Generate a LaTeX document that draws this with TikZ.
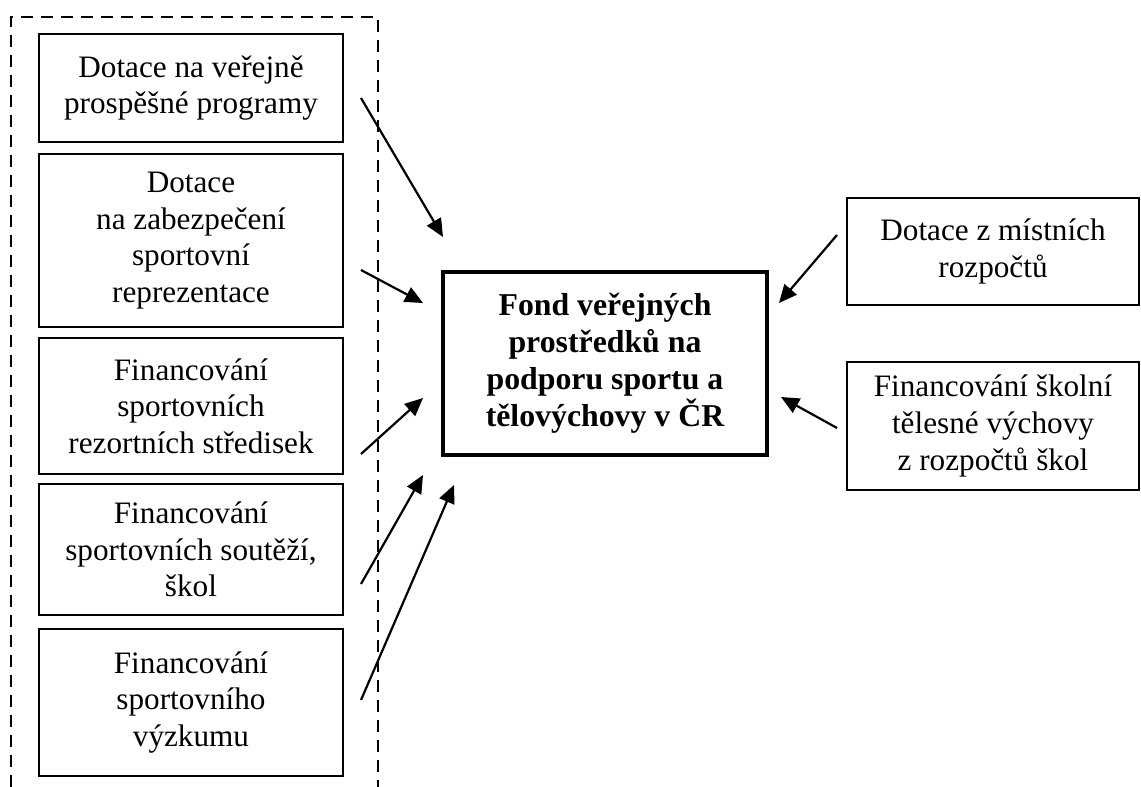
\documentclass[tikz,border=0pt]{standalone}
\usepackage{fontspec}
\setmainfont{Liberation Serif}
\usetikzlibrary{arrows.meta}
\begin{document}
\begin{tikzpicture}[x=0.5pt,y=-0.5pt,
  box/.style={draw, line width=1pt, rectangle, inner sep=0pt, align=center,
    font=\fontsize{15.6pt}{18.3pt}\selectfont},
  mainbox/.style={draw, line width=1.8pt, rectangle, inner sep=0pt, align=center,
    font=\fontsize{15.9pt}{18.5pt}\selectfont\bfseries},
  flow/.style={line width=1.1pt, -{Triangle[length=9pt,width=8pt]}},
  group/.style={line width=0.75pt, dash pattern=on 6pt off 4pt}]
\useasboundingbox (0,0) rectangle (1141,787);
% dashed group
\coordinate (g1) at (11,787);
\coordinate (g2) at (11,17);
\coordinate (g3) at (378,17);
\coordinate (g4) at (378,787);
\draw[group] (g1) -- (g2) -- (g3) -- (g4);
% left boxes
\node[box, minimum width=152pt, minimum height=54pt] (b1) at (191,88) {Dotace na veřejně\\prospěšné programy};
\node[box, minimum width=152pt, minimum height=86.5pt] (b2) at (191,240.5) {Dotace\\na zabezpečení\\sportovní\\reprezentace};
\node[box, minimum width=152pt, minimum height=68pt] (b3) at (191,406) {Financování\\sportovních\\rezortních středisek};
\node[box, minimum width=152pt, minimum height=65.5pt] (b4) at (191,549.5) {Financování\\sportovních soutěží,\\škol};
\node[box, minimum width=152pt, minimum height=73.5pt] (b5) at (191,702.5) {Financování\\sportovního\\výzkumu};
% central box
\node[mainbox, minimum width=162pt, minimum height=91.5pt] (fond) at (605,363.5) {Fond veřejných\\prostředků na\\podporu sportu a\\tělovýchovy v ČR};
% right boxes
\node[box, minimum width=146pt, minimum height=53.5pt] (r1) at (993,251.5) {Dotace z místních\\rozpočtů};
\node[box, minimum width=146pt, minimum height=64pt] (r2) at (993,426) {Financování školní\\tělesné výchovy\\z rozpočtů škol};
% arrow end points
\coordinate (s1) at (361,98);  \coordinate (t1) at (443,237);
\coordinate (s2) at (361,270); \coordinate (t2) at (423,303);
\coordinate (s3) at (361,454); \coordinate (t3) at (423,398);
\coordinate (s4) at (361,584); \coordinate (t4) at (423,475);
\coordinate (s5) at (361,700); \coordinate (t5) at (454,485);
\coordinate (s6) at (837,235); \coordinate (t6) at (779,303);
\coordinate (s7) at (837,428); \coordinate (t7) at (781,397);
\draw[flow] (s1) -- (t1);
\draw[flow] (s2) -- (t2);
\draw[flow] (s3) -- (t3);
\draw[flow] (s4) -- (t4);
\draw[flow] (s5) -- (t5);
\draw[flow] (s6) -- (t6);
\draw[flow] (s7) -- (t7);
\end{tikzpicture}
\end{document}
